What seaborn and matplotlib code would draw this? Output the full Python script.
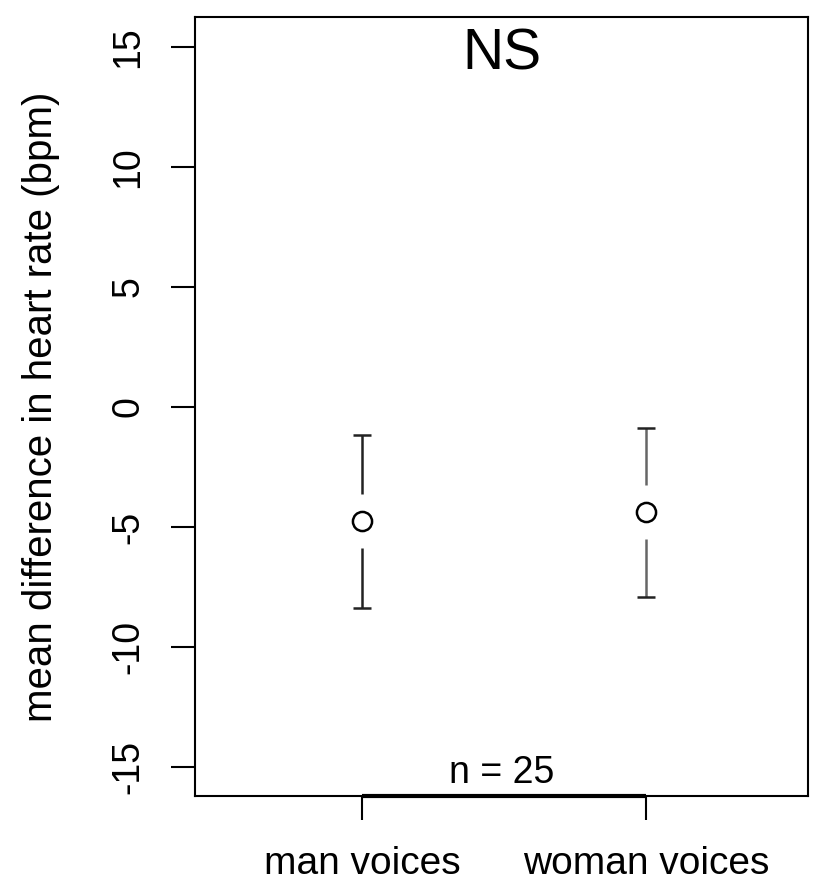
import matplotlib
matplotlib.use('Agg')
import matplotlib.pyplot as plt
import seaborn as sns
import numpy as np
import pandas as pd

# ---- data ----
conditions = ['man voices', 'woman voices']
mean_diff = [-4.75, -4.38]
ci_upper = [-1.17, -0.87]
ci_lower = [-8.38, -7.92]
y_ticks = [-15, -10, -5, 0, 5, 10, 15]
title_text = 'NS'
n_text = 'n = 25'
y_label = 'mean difference in heart rate (bpm)'

sns.set_theme(style='white')
plt.rcParams['font.family'] = ['Liberation Sans', 'DejaVu Sans']

W, H = 827, 891
fig = plt.figure(figsize=(W / 100, H / 100), dpi=100)
ax = fig.add_axes([195 / W, 95 / H, 613 / W, 779 / H])

df = pd.DataFrame({'condition': conditions, 'mean': mean_diff,
                   'lo': ci_lower, 'hi': ci_upper})
xpos = np.arange(len(conditions))

sns.scatterplot(data=df, x='condition', y='mean', ax=ax, s=190,
                marker='o', facecolor='white', edgecolor='black',
                linewidth=1.8, zorder=3, legend=False)

gap = 1.12
cap = 0.032
bar_colors = ['#222222', '#666666']
ax.vlines(xpos, df['hi'], df['mean'] + gap, colors=bar_colors, lw=1.8)
ax.vlines(xpos, df['mean'] - gap, df['lo'], colors=bar_colors, lw=1.8)
ax.hlines(df['hi'], xpos - cap, xpos + cap, colors='#222222', lw=1.8)
ax.hlines(df['lo'], xpos - cap, xpos + cap, colors='#222222', lw=1.8)

ylim = (-16.21, 16.25)
ax.set_xlim(-0.588, 1.570)
ax.set_ylim(*ylim)

# R-style axis segment from first to last category tick
ax.plot([xpos[0], xpos[-1]], [ylim[0], ylim[0]], color='black', lw=3,
        clip_on=False, solid_capstyle='butt', zorder=5)

for sp in ax.spines.values():
    sp.set_visible(True)
    sp.set_color('black')
    sp.set_linewidth(1.5)

ax.set_yticks(y_ticks)
ax.set_yticklabels([str(t) for t in y_ticks], rotation=90, va='center',
                   fontsize=27)
ax.set_xticks(xpos)
ax.set_xticklabels(conditions, fontsize=28)
ax.tick_params(axis='both', which='both', bottom=True, left=True,
               direction='out', length=17, width=1.5, colors='black')
ax.tick_params(axis='y', pad=18)
ax.tick_params(axis='x', pad=19)
ax.set_xlabel('')
ax.set_ylabel(y_label, fontsize=29, labelpad=36, color='black')

ax.text(0.5, 0.932, title_text, transform=ax.transAxes, ha='center',
        va='baseline', fontsize=41, color='black')
ax.text(0.5, 0.0167, n_text, transform=ax.transAxes, ha='center',
        va='baseline', fontsize=27, color='black')

fig.savefig('out.png', dpi=100)
